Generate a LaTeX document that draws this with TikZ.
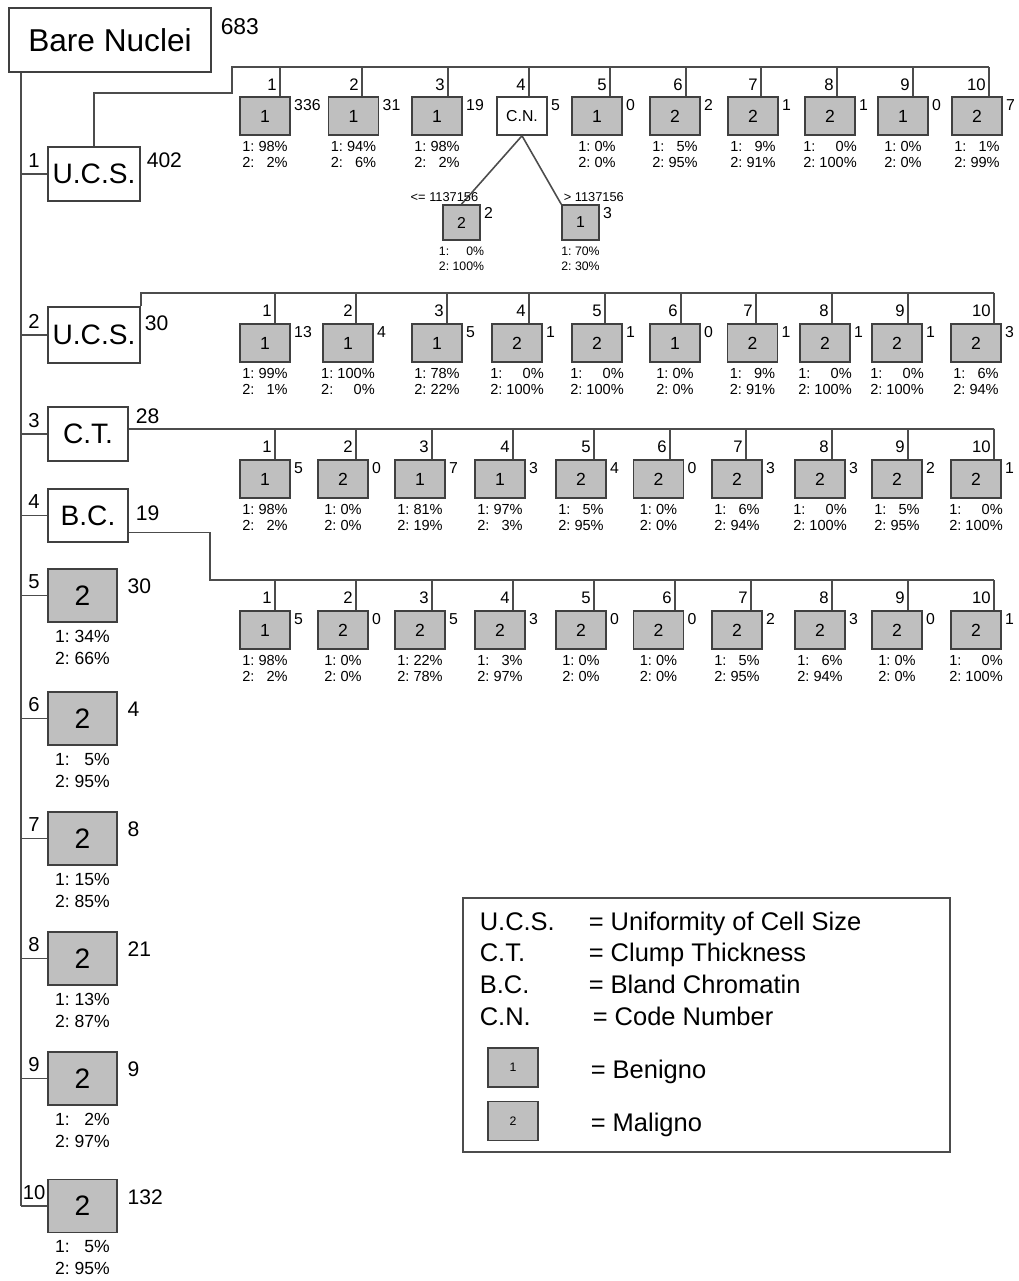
\documentclass[tikz,border=0pt]{standalone}
\usepackage{fontspec}
\setmainfont{Liberation Sans}
\newcommand{\shares}[2]{\begin{tabular}{@{}l@{\ }r@{}}1:&#1\%\\2:&#2\%\end{tabular}}

\begin{document}
\begin{tikzpicture}[x=0.02cm, y=-0.02cm, line width=0.9pt,
  wire/.style={draw=black!70},
  splitbox/.style={draw=black!75, fill=white, inner sep=0pt, font=\fontsize{16}{18}\selectfont},
  leaf/.style={draw=black!75, fill=black!25, minimum width=1cm, minimum height=0.76cm, inner sep=0pt, font=\fontsize{10}{12}\selectfont},
  bigleaf/.style={leaf, minimum width=1.38cm, minimum height=1.06cm, font=\fontsize{16}{18}\selectfont},
  tinyleaf/.style={leaf, minimum width=0.74cm, minimum height=0.7cm, font=\fontsize{9}{11}\selectfont},
  cnt/.style={anchor=north west, inner sep=1.5pt, font=\fontsize{9}{11}\selectfont},
  lcnt/.style={anchor=north west, inner sep=0pt, xshift=0.18cm, yshift=-0.2cm, font=\fontsize{12}{14}\selectfont},
  bigcnt/.style={anchor=west, inner sep=0pt, font=\fontsize{12}{14}\selectfont},
  pct/.style={inner sep=2pt, font=\fontsize{8.3}{9.2}\selectfont},
  bigpct/.style={inner sep=2pt, font=\fontsize{10}{12.5}\selectfont},
  valno/.style={left, pos=0.6, inner sep=1.5pt, font=\fontsize{9.5}{11}\selectfont},
  branchno/.style={above, inner sep=1pt, yshift=0.08cm, font=\fontsize{11.5}{13}\selectfont},
  keytext/.style={anchor=base west, inner sep=0pt, font=\fontsize{14.5}{17}\selectfont}]
  \useasboundingbox (0,0) rectangle (1018,1281);

  % root and trunk
  \node[splitbox, minimum width=4.04cm, minimum height=1.28cm, font=\fontsize{18}{20}\selectfont] (root) at (110,40) {Bare Nuclei};
  \node[bigcnt, font=\fontsize{13}{15}\selectfont] (rootcnt) at (220,27) {683};
  \coordinate (trunk) at (21,0);

  % split nodes
  \node[splitbox, minimum width=1.84cm, minimum height=1.08cm] (ucsA) at (94,174) {U.C.S.};
  \node[bigcnt] (ucsAcnt) at (146,160) {402};
  \node[splitbox, minimum width=1.84cm, minimum height=1.12cm] (ucsB) at (94,335) {U.C.S.};
  \node[bigcnt] (ucsBcnt) at (144,323) {30};
  \node[splitbox, minimum width=1.6cm, minimum height=1.08cm] (ct) at (88,434) {C.T.};
  \node[bigcnt] (ctcnt) at (135,416) {28};
  \node[splitbox, minimum width=1.6cm, minimum height=1.06cm] (bc) at (88,515.5) {B.C.};
  \node[bigcnt] (bccnt) at (135,513) {19};

  % leaves of the root
  \node[bigleaf, label={[lcnt]north east:30}, label={[bigpct]below:{\shares{34}{66}}}] (l5) at (82.5,595.5) {2};
  \node[bigleaf, label={[lcnt]north east:4}, label={[bigpct]below:{\shares{5}{95}}}] (l6) at (82.5,718.5) {2};
  \node[bigleaf, label={[lcnt]north east:8}, label={[bigpct]below:{\shares{15}{85}}}] (l7) at (82.5,838.5) {2};
  \node[bigleaf, label={[lcnt]north east:21}, label={[bigpct]below:{\shares{13}{87}}}] (l8) at (82.5,958.5) {2};
  \node[bigleaf, label={[lcnt]north east:9}, label={[bigpct]below:{\shares{2}{97}}}] (l9) at (82.5,1078.5) {2};
  \node[bigleaf, label={[lcnt]north east:132}, label={[bigpct]below:{\shares{5}{95}}}] (l10) at (82.5,1206) {2};

  \draw[wire] (root.south -| trunk) -- (l10.west -| trunk);
  \draw[wire] (ucsA.west -| trunk) -- node[branchno] (n1) {1} (ucsA.west);
  \draw[wire] (ucsB.west -| trunk) -- node[branchno] (n2) {2} (ucsB.west);
  \draw[wire] (ct.west -| trunk) -- node[branchno] (n3) {3} (ct.west);
  \draw[wire] (bc.west -| trunk) -- node[branchno] (n4) {4} (bc.west);
  \draw[wire] (l5.west -| trunk) -- node[branchno] (n5) {5} (l5.west);
  \draw[wire] (l6.west -| trunk) -- node[branchno] (n6) {6} (l6.west);
  \draw[wire] (l7.west -| trunk) -- node[branchno] (n7) {7} (l7.west);
  \draw[wire] (l8.west -| trunk) -- node[branchno] (n8) {8} (l8.west);
  \draw[wire] (l9.west -| trunk) -- node[branchno] (n9) {9} (l9.west);
  \draw[wire] (l10.west -| trunk) -- node[branchno] (n10) {10} (l10.west);

  % bars
  \coordinate (elbA) at (232,93);
  \coordinate (barA) at (989,67);
  \draw[wire] (ucsA.north) |- (elbA) |- (barA);
  \coordinate (barB) at (994,293);
  \draw[wire] (ucsB.north east) |- (barB);
  \coordinate (barC) at (994,429);
  \draw[wire] ([yshift=0.1cm]ct.east) -- (barC);
  \coordinate (elbD) at (210,580);
  \coordinate (barD) at (994,580);
  \draw[wire] ([yshift=-0.34cm]bc.east) -| (elbD) -- (barD);

  % row under first U.C.S.
  \node[leaf, label={[cnt]north east:336}, label={[pct]below:{\shares{98}{2}}}] (a1) at (265,116) {1};
  \node[leaf, label={[cnt]north east:31}, label={[pct]below:{\shares{94}{6}}}] (a2) at (353.5,116) {1};
  \node[leaf, label={[cnt]north east:19}, label={[pct]below:{\shares{98}{2}}}] (a3) at (437,116) {1};
  \node[splitbox, minimum width=1cm, minimum height=0.76cm, font=\fontsize{9}{11}\selectfont, label={[cnt]north east:5}] (a4) at (522,116) {C.N.};
  \node[leaf, label={[cnt]north east:0}, label={[pct]below:{\shares{0}{0}}}] (a5) at (597,116) {1};
  \node[leaf, label={[cnt]north east:2}, label={[pct]below:{\shares{5}{95}}}] (a6) at (675,116) {2};
  \node[leaf, label={[cnt]north east:1}, label={[pct]below:{\shares{9}{91}}}] (a7) at (753,116) {2};
  \node[leaf, label={[cnt]north east:1}, label={[pct]below:{\shares{0}{100}}}] (a8) at (830,116) {2};
  \node[leaf, label={[cnt]north east:0}, label={[pct]below:{\shares{0}{0}}}] (a9) at (903,116) {1};
  \node[leaf, label={[cnt]north east:7}, label={[pct]below:{\shares{1}{99}}}] (a10) at (977,116) {2};
  \coordinate (ta1) at (280,67);
  \coordinate (ta2) at (362,67);
  \coordinate (ta3) at (448,67);
  \coordinate (ta4) at (529,67);
  \coordinate (ta5) at (610,67);
  \coordinate (ta6) at (686,67);
  \coordinate (ta7) at (761,67);
  \coordinate (ta8) at (837,67);
  \coordinate (ta9) at (913,67);
  \coordinate (ta10) at (989,67);
  \draw[wire] (ta1) -- node[valno] (na1) {1} (ta1 |- a1.north);
  \draw[wire] (ta2) -- node[valno] (na2) {2} (ta2 |- a2.north);
  \draw[wire] (ta3) -- node[valno] (na3) {3} (ta3 |- a3.north);
  \draw[wire] (ta4) -- node[valno] (na4) {4} (ta4 |- a4.north);
  \draw[wire] (ta5) -- node[valno] (na5) {5} (ta5 |- a5.north);
  \draw[wire] (ta6) -- node[valno] (na6) {6} (ta6 |- a6.north);
  \draw[wire] (ta7) -- node[valno] (na7) {7} (ta7 |- a7.north);
  \draw[wire] (ta8) -- node[valno] (na8) {8} (ta8 |- a8.north);
  \draw[wire] (ta9) -- node[valno] (na9) {9} (ta9 |- a9.north);
  \draw[wire] (ta10) -- node[valno] (na10) {10} (ta10 |- a10.north);

  % split on code number
  \node[tinyleaf, label={[cnt]north east:2}, label={[pct, font=\fontsize{7}{8.5}\selectfont]below:{\shares{0}{100}}}] (a4l) at (461.5,222.5) {2};
  \node[tinyleaf, label={[cnt]north east:3}, label={[pct, font=\fontsize{7}{8.5}\selectfont]below:{\shares{70}{30}}}] (a4r) at (580.5,222.5) {1};
  \draw[wire] (a4.south) -- (a4l.north);
  \draw[wire] (a4.south) -- (a4r.north west);
  \node[anchor=south east, inner sep=1pt, font=\fontsize{7.3}{8}\selectfont] (cutl) at (a4l.north east) {<= 1137156};
  \node[anchor=south west, inner sep=1pt, font=\fontsize{7.3}{8}\selectfont] (cutr) at (a4r.north west) {> 1137156};

  % row under second U.C.S.
  \node[leaf, label={[cnt]north east:13}, label={[pct]below:{\shares{99}{1}}}] (b1) at (265,343) {1};
  \node[leaf, label={[cnt]north east:4}, label={[pct]below:{\shares{100}{0}}}] (b2) at (348,343) {1};
  \node[leaf, label={[cnt]north east:5}, label={[pct]below:{\shares{78}{22}}}] (b3) at (437,343) {1};
  \node[leaf, label={[cnt]north east:1}, label={[pct]below:{\shares{0}{100}}}] (b4) at (517,343) {2};
  \node[leaf, label={[cnt]north east:1}, label={[pct]below:{\shares{0}{100}}}] (b5) at (597,343) {2};
  \node[leaf, label={[cnt]north east:0}, label={[pct]below:{\shares{0}{0}}}] (b6) at (675,343) {1};
  \node[leaf, label={[cnt]north east:1}, label={[pct]below:{\shares{9}{91}}}] (b7) at (752.5,343) {2};
  \node[leaf, label={[cnt]north east:1}, label={[pct]below:{\shares{0}{100}}}] (b8) at (825,343) {2};
  \node[leaf, label={[cnt]north east:1}, label={[pct]below:{\shares{0}{100}}}] (b9) at (897,343) {2};
  \node[leaf, label={[cnt]north east:3}, label={[pct]below:{\shares{6}{94}}}] (b10) at (976,343) {2};
  \coordinate (tb1) at (275,293);
  \coordinate (tb2) at (356,293);
  \coordinate (tb3) at (447,293);
  \coordinate (tb4) at (529,293);
  \coordinate (tb5) at (605,293);
  \coordinate (tb6) at (681,293);
  \coordinate (tb7) at (756,293);
  \coordinate (tb8) at (832,293);
  \coordinate (tb9) at (908,293);
  \coordinate (tb10) at (994,293);
  \draw[wire] (tb1) -- node[valno] (nb1) {1} (tb1 |- b1.north);
  \draw[wire] (tb2) -- node[valno] (nb2) {2} (tb2 |- b2.north);
  \draw[wire] (tb3) -- node[valno] (nb3) {3} (tb3 |- b3.north);
  \draw[wire] (tb4) -- node[valno] (nb4) {4} (tb4 |- b4.north);
  \draw[wire] (tb5) -- node[valno] (nb5) {5} (tb5 |- b5.north);
  \draw[wire] (tb6) -- node[valno] (nb6) {6} (tb6 |- b6.north);
  \draw[wire] (tb7) -- node[valno] (nb7) {7} (tb7 |- b7.north);
  \draw[wire] (tb8) -- node[valno] (nb8) {8} (tb8 |- b8.north);
  \draw[wire] (tb9) -- node[valno] (nb9) {9} (tb9 |- b9.north);
  \draw[wire] (tb10) -- node[valno] (nb10) {10} (tb10 |- b10.north);

  % row under C.T.
  \node[leaf, label={[cnt]north east:5}, label={[pct]below:{\shares{98}{2}}}] (c1) at (265,479) {1};
  \node[leaf, label={[cnt]north east:0}, label={[pct]below:{\shares{0}{0}}}] (c2) at (343,479) {2};
  \node[leaf, label={[cnt]north east:7}, label={[pct]below:{\shares{81}{19}}}] (c3) at (420,479) {1};
  \node[leaf, label={[cnt]north east:3}, label={[pct]below:{\shares{97}{3}}}] (c4) at (500,479) {1};
  \node[leaf, label={[cnt]north east:4}, label={[pct]below:{\shares{5}{95}}}] (c5) at (581,479) {2};
  \node[leaf, label={[cnt]north east:0}, label={[pct]below:{\shares{0}{0}}}] (c6) at (658.5,479) {2};
  \node[leaf, label={[cnt]north east:3}, label={[pct]below:{\shares{6}{94}}}] (c7) at (737,479) {2};
  \node[leaf, label={[cnt]north east:3}, label={[pct]below:{\shares{0}{100}}}] (c8) at (820,479) {2};
  \node[leaf, label={[cnt]north east:2}, label={[pct]below:{\shares{5}{95}}}] (c9) at (897,479) {2};
  \node[leaf, label={[cnt]north east:1}, label={[pct]below:{\shares{0}{100}}}] (c10) at (976,479) {2};
  \coordinate (tc1) at (275,429);
  \coordinate (tc2) at (356,429);
  \coordinate (tc3) at (432,429);
  \coordinate (tc4) at (513,429);
  \coordinate (tc5) at (594,429);
  \coordinate (tc6) at (670,429);
  \coordinate (tc7) at (746,429);
  \coordinate (tc8) at (832,429);
  \coordinate (tc9) at (908,429);
  \coordinate (tc10) at (994,429);
  \draw[wire] (tc1) -- node[valno] (nc1) {1} (tc1 |- c1.north);
  \draw[wire] (tc2) -- node[valno] (nc2) {2} (tc2 |- c2.north);
  \draw[wire] (tc3) -- node[valno] (nc3) {3} (tc3 |- c3.north);
  \draw[wire] (tc4) -- node[valno] (nc4) {4} (tc4 |- c4.north);
  \draw[wire] (tc5) -- node[valno] (nc5) {5} (tc5 |- c5.north);
  \draw[wire] (tc6) -- node[valno] (nc6) {6} (tc6 |- c6.north);
  \draw[wire] (tc7) -- node[valno] (nc7) {7} (tc7 |- c7.north);
  \draw[wire] (tc8) -- node[valno] (nc8) {8} (tc8 |- c8.north);
  \draw[wire] (tc9) -- node[valno] (nc9) {9} (tc9 |- c9.north);
  \draw[wire] (tc10) -- node[valno] (nc10) {10} (tc10 |- c10.north);

  % row under B.C.
  \node[leaf, label={[cnt]north east:5}, label={[pct]below:{\shares{98}{2}}}] (d1) at (265,630) {1};
  \node[leaf, label={[cnt]north east:0}, label={[pct]below:{\shares{0}{0}}}] (d2) at (343,630) {2};
  \node[leaf, label={[cnt]north east:5}, label={[pct]below:{\shares{22}{78}}}] (d3) at (420,630) {2};
  \node[leaf, label={[cnt]north east:3}, label={[pct]below:{\shares{3}{97}}}] (d4) at (500,630) {2};
  \node[leaf, label={[cnt]north east:0}, label={[pct]below:{\shares{0}{0}}}] (d5) at (581,630) {2};
  \node[leaf, label={[cnt]north east:0}, label={[pct]below:{\shares{0}{0}}}] (d6) at (658.5,630) {2};
  \node[leaf, label={[cnt]north east:2}, label={[pct]below:{\shares{5}{95}}}] (d7) at (737,630) {2};
  \node[leaf, label={[cnt]north east:3}, label={[pct]below:{\shares{6}{94}}}] (d8) at (820,630) {2};
  \node[leaf, label={[cnt]north east:0}, label={[pct]below:{\shares{0}{0}}}] (d9) at (897,630) {2};
  \node[leaf, label={[cnt]north east:1}, label={[pct]below:{\shares{0}{100}}}] (d10) at (976,630) {2};
  \coordinate (td1) at (275,580);
  \coordinate (td2) at (356,580);
  \coordinate (td3) at (432,580);
  \coordinate (td4) at (513,580);
  \coordinate (td5) at (594,580);
  \coordinate (td6) at (675,580);
  \coordinate (td7) at (751,580);
  \coordinate (td8) at (832,580);
  \coordinate (td9) at (908,580);
  \coordinate (td10) at (994,580);
  \draw[wire] (td1) -- node[valno] (nd1) {1} (td1 |- d1.north);
  \draw[wire] (td2) -- node[valno] (nd2) {2} (td2 |- d2.north);
  \draw[wire] (td3) -- node[valno] (nd3) {3} (td3 |- d3.north);
  \draw[wire] (td4) -- node[valno] (nd4) {4} (td4 |- d4.north);
  \draw[wire] (td5) -- node[valno] (nd5) {5} (td5 |- d5.north);
  \draw[wire] (td6) -- node[valno] (nd6) {6} (td6 |- d6.north);
  \draw[wire] (td7) -- node[valno] (nd7) {7} (td7 |- d7.north);
  \draw[wire] (td8) -- node[valno] (nd8) {8} (td8 |- d8.north);
  \draw[wire] (td9) -- node[valno] (nd9) {9} (td9 |- d9.north);
  \draw[wire] (td10) -- node[valno] (nd10) {10} (td10 |- d10.north);

  % legend
  \node[draw=black!70, minimum width=9.74cm, minimum height=5.08cm, inner sep=0pt] (keybox) at (706.5,1025) {};
  \node[keytext] (kucs) at (479,930) {U.C.S.};
  \node[keytext] (kucsdef) at (588,930) {= Uniformity of Cell Size};
  \node[keytext] (kct) at (479,961) {C.T.};
  \node[keytext] (kctdef) at (588,961) {= Clump Thickness};
  \node[keytext] (kbc) at (479,993) {B.C.};
  \node[keytext] (kbcdef) at (588,993) {= Bland Chromatin};
  \node[keytext] (kcn) at (479,1025) {C.N.};
  \node[keytext] (kcndef) at (592,1025) {= Code Number};
  \node[leaf, minimum height=0.78cm, font=\fontsize{7}{8}\selectfont] (kben) at (513,1067.5) {1};
  \node[keytext] (kbendef) at (590,1078) {= Benigno};
  \node[leaf, minimum height=0.78cm, font=\fontsize{7}{8}\selectfont] (kmal) at (513,1121) {2};
  \node[keytext] (kmaldef) at (590,1131) {= Maligno};
\end{tikzpicture}
\end{document}
